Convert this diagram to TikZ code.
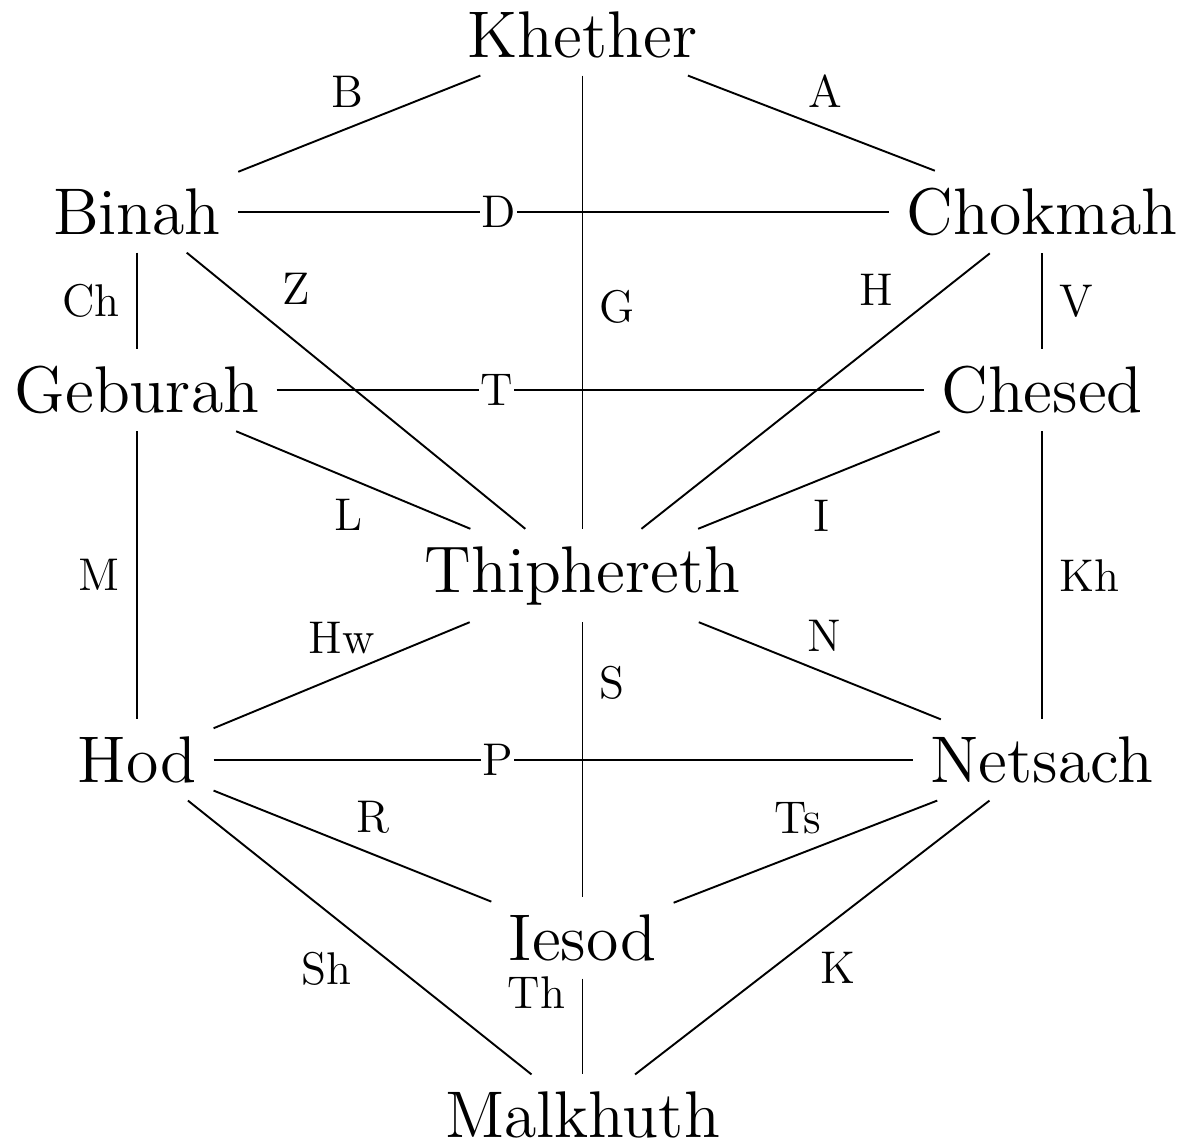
\documentclass[tikz,border=0pt]{standalone}
\usepackage{graphicx}
\usepackage{tikz}
\newcommand{\sefname}[1]{\scalebox{1.44}{\large #1}}

\begin{document}
\begin{tikzpicture}[
  line width=0.5pt,
  sefira/.style={inner sep=4.3pt},
  letter/.style={font=\large, inner sep=4.3pt},
  gate/.style={font=\large, fill=white, inner sep=0.3pt}]
\useasboundingbox (-5.359,-5.249) rectangle (5.534,5.295);
% the ten sefirot
\node[sefira] (khether)    at (0,4.973)       {\sefname{Khether}};
\node[sefira] (binah)      at (-4.099,3.344)  {\sefname{Binah}};
\node[sefira] (chokmah)    at (4.228,3.344)   {\sefname{Chokmah}};
\node[sefira] (geburah)    at (-4.099,1.707)  {\sefname{Geburah}};
\node[sefira] (chesed)     at (4.228,1.707)   {\sefname{Chesed}};
\node[sefira] (thiphereth) at (0,0)           {\sefname{Thiphereth}};
\node[sefira] (hod)        at (-4.099,-1.697) {\sefname{Hod}};
\node[sefira] (netsach)    at (4.228,-1.697)  {\sefname{Netsach}};
\node[sefira] (iesod)      at (0,-3.335)      {\sefname{Iesod}};
\node[sefira] (malkhuth)   at (0,-4.964)      {\sefname{Malkhuth}};
% the paths and their letters
\draw (binah) -- node[letter, pos=0.45, above=1pt] {B} (khether);
\draw (khether) -- node[letter, pos=0.555, above=1pt] {A} (chokmah);
\draw (khether) -- node[letter, pos=0.51, right] {G} (thiphereth);
\draw (binah) -- node[gate, pos=0.4] {D} (chokmah);
\draw (binah) -- node[letter, midway, left] {Ch} (geburah);
\draw (chokmah) -- node[letter, midway, right] {V} (chesed);
\draw (binah) -- node[letter, pos=0.24, above right=-0.8pt] {Z} (thiphereth);
\draw (chokmah) -- node[letter, pos=0.24, above left=-1pt] {H} (thiphereth);
\draw (geburah) -- node[gate, pos=0.34] {T} (chesed);
\draw (geburah) -- node[letter, pos=0.48, below=1pt] {L} (thiphereth);
\draw (chesed) -- node[letter, pos=0.49, below=1pt] {I} (thiphereth);
\draw (geburah) -- node[letter, midway, left] {M} (hod);
\draw (chesed) -- node[letter, midway, right] {Kh} (netsach);
\draw (hod) -- node[letter, pos=0.5, above=1pt] {Hw} (thiphereth);
\draw (thiphereth) -- node[letter, pos=0.52, above=1pt] {N} (netsach);
\draw (thiphereth) -- node[letter, pos=0.22, right] {S} (iesod);
\draw (hod) -- node[gate, pos=0.406] {P} (netsach);
\draw (hod) -- node[letter, pos=0.575, above=1pt] {R} (iesod);
\draw (netsach) -- node[letter, pos=0.53, above=1pt] {Ts} (iesod);
\draw (hod) -- node[letter, pos=0.51, below left=-1.5pt] {Sh} (malkhuth);
\draw (netsach) -- node[letter, pos=0.51, below right=-1.5pt] {K} (malkhuth);
\draw (iesod) -- node[letter, pos=0.15, left] {Th} (malkhuth);
\end{tikzpicture}
\end{document}
